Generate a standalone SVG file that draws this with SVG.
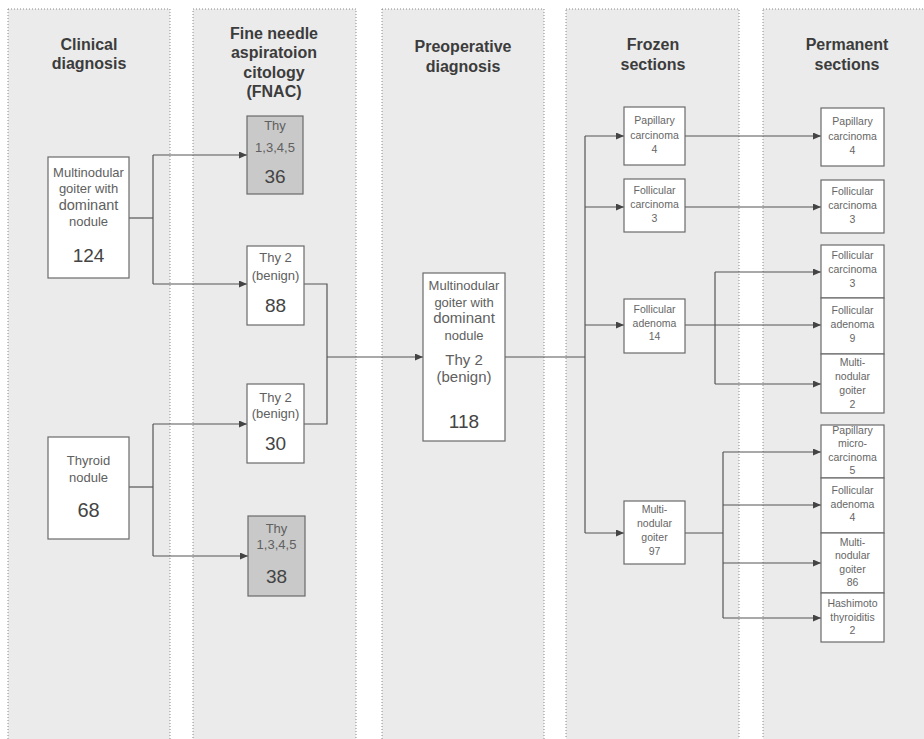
<svg xmlns="http://www.w3.org/2000/svg" width="924" height="739" viewBox="0 0 924 739">
<defs>
<style>
.panel{fill:#ebebeb;stroke:#8a8a8a;stroke-width:1;stroke-dasharray:1 2}
.hd{font-family:"Liberation Sans",Arial,sans-serif;font-weight:bold;font-size:16px;fill:#3c3c3c;text-anchor:middle}
.box{fill:#ffffff;stroke:#6a6a6a;stroke-width:1.2}
.gbox{fill:#c9c9c9;stroke:#6a6a6a;stroke-width:1.2}
.t{font-family:"Liberation Sans",Arial,sans-serif;font-size:13px;fill:#606060;text-anchor:middle}
.tb{font-family:"Liberation Sans",Arial,sans-serif;font-size:15px;fill:#606060;text-anchor:middle}
.n{font-family:"Liberation Sans",Arial,sans-serif;font-size:19px;fill:#444;text-anchor:middle}
.s{font-family:"Liberation Sans",Arial,sans-serif;font-size:10.5px;fill:#666;text-anchor:middle}
.c{fill:none;stroke:#555;stroke-width:1.2}
</style>
<marker id="ah" markerWidth="8" markerHeight="7" refX="8" refY="3.5" orient="auto" markerUnits="userSpaceOnUse">
<path d="M0,0 L8,3.5 L0,7 z" fill="#444"/>
</marker>
</defs>
<rect width="924" height="739" fill="#ffffff"/>
<g id="panels">
<rect class="panel" x="8" y="9" width="162" height="740"/>
<rect class="panel" x="193" y="9" width="163" height="740"/>
<rect class="panel" x="382" y="9" width="162" height="740"/>
<rect class="panel" x="566" y="9" width="173" height="740"/>
<rect class="panel" x="763" y="9" width="170" height="740"/>
<text class="hd" x="89" y="50">Clinical</text>
<text class="hd" x="89" y="69">diagnosis</text>
<text class="hd" x="274" y="39">Fine needle</text>
<text class="hd" x="274" y="58">aspiratoion</text>
<text class="hd" x="274" y="78">citology</text>
<text class="hd" x="274" y="97">(FNAC)</text>
<text class="hd" x="463" y="52">Preoperative</text>
<text class="hd" x="463" y="72">diagnosis</text>
<text class="hd" x="653" y="50">Frozen</text>
<text class="hd" x="653" y="70">sections</text>
<text class="hd" x="847" y="50">Permanent</text>
<text class="hd" x="847" y="70">sections</text>
</g>
<g id="connectors">
<polyline class="c" points="129,218 153,218"/>
<polyline class="c" points="153,155 153,284"/>
<line class="c" x1="153" y1="155" x2="247" y2="155" marker-end="url(#ah)"/>
<line class="c" x1="153" y1="284" x2="247" y2="284" marker-end="url(#ah)"/>
<polyline class="c" points="129,487 153,487"/>
<polyline class="c" points="153,424 153,556"/>
<line class="c" x1="153" y1="424" x2="247" y2="424" marker-end="url(#ah)"/>
<line class="c" x1="153" y1="556" x2="248" y2="556" marker-end="url(#ah)"/>
<polyline class="c" points="304,284 327,284 327,424 304,424"/>
<line class="c" x1="327" y1="357" x2="423" y2="357" marker-end="url(#ah)"/>
<polyline class="c" points="505,357 585,357"/>
<polyline class="c" points="585,136 585,533"/>
<line class="c" x1="585" y1="136" x2="624" y2="136" marker-end="url(#ah)"/>
<line class="c" x1="585" y1="207" x2="624" y2="207" marker-end="url(#ah)"/>
<line class="c" x1="585" y1="325" x2="624" y2="325" marker-end="url(#ah)"/>
<line class="c" x1="585" y1="533" x2="624" y2="533" marker-end="url(#ah)"/>
<line class="c" x1="685" y1="136" x2="821" y2="136" marker-end="url(#ah)"/>
<line class="c" x1="685" y1="207" x2="821" y2="207" marker-end="url(#ah)"/>
<line class="c" x1="685" y1="325" x2="821" y2="325" marker-end="url(#ah)"/>
<polyline class="c" points="715,272 715,384"/>
<line class="c" x1="715" y1="272" x2="821" y2="272" marker-end="url(#ah)"/>
<line class="c" x1="715" y1="384" x2="821" y2="384" marker-end="url(#ah)"/>
<polyline class="c" points="685,533 723,533"/>
<polyline class="c" points="723,452 723,618"/>
<line class="c" x1="723" y1="452" x2="821" y2="452" marker-end="url(#ah)"/>
<line class="c" x1="723" y1="505" x2="821" y2="505" marker-end="url(#ah)"/>
<line class="c" x1="723" y1="563" x2="821" y2="563" marker-end="url(#ah)"/>
<line class="c" x1="723" y1="618" x2="821" y2="618" marker-end="url(#ah)"/>
</g>
<g id="clin-mng">
<rect class="box" x="48" y="157" width="81" height="121"/>
<text class="t" x="88.5" y="177">Multinodular</text>
<text class="t" x="88.5" y="193">goiter with</text>
<text class="t" x="88.5" y="210" style="font-size:14.5px">dominant</text>
<text class="t" x="88.5" y="226">nodule</text>
<text class="n" x="88.5" y="262">124</text>
</g>
<g id="clin-thyroid">
<rect class="box" x="48" y="437" width="81" height="102"/>
<text class="t" x="88.5" y="465">Thyroid</text>
<text class="t" x="88.5" y="482">nodule</text>
<text class="n" x="88.5" y="517" style="font-size:20px">68</text>
</g>
<g id="fnac-36">
<rect class="gbox" x="247" y="116" width="56" height="78"/>
<text class="t" x="275" y="130">Thy</text>
<text class="t" x="275" y="152">1,3,4,5</text>
<text class="n" x="275" y="183">36</text>
</g>
<g id="fnac-88">
<rect class="box" x="247" y="246" width="57" height="79"/>
<text class="t" x="275.5" y="262">Thy 2</text>
<text class="t" x="275.5" y="280">(benign)</text>
<text class="n" x="275.5" y="312">88</text>
</g>
<g id="fnac-30">
<rect class="box" x="247" y="384" width="57" height="79"/>
<text class="t" x="275.5" y="402">Thy 2</text>
<text class="t" x="275.5" y="418">(benign)</text>
<text class="n" x="275.5" y="450">30</text>
</g>
<g id="fnac-38">
<rect class="gbox" x="248" y="516" width="57" height="80"/>
<text class="t" x="276.5" y="533">Thy</text>
<text class="t" x="276.5" y="549">1,3,4,5</text>
<text class="n" x="276.5" y="583">38</text>
</g>
<g id="preop">
<rect class="box" x="423" y="273" width="82" height="168"/>
<text class="t" x="464" y="290">Multinodular</text>
<text class="t" x="464" y="307">goiter with</text>
<text class="tb" x="464" y="323">dominant</text>
<text class="t" x="464" y="340">nodule</text>
<text class="tb" x="464" y="365">Thy 2</text>
<text class="tb" x="464" y="382">(benign)</text>
<text class="n" x="464" y="428">118</text>
</g>
<g id="fz-pap">
<rect class="box" x="624" y="107" width="61" height="58"/>
<text class="s" x="654.5" y="124">Papillary</text>
<text class="s" x="654.5" y="139">carcinoma</text>
<text class="s" x="654.5" y="153">4</text>
</g>
<g id="fz-fc">
<rect class="box" x="624" y="179" width="61" height="53"/>
<text class="s" x="654.5" y="194">Follicular</text>
<text class="s" x="654.5" y="208">carcinoma</text>
<text class="s" x="654.5" y="222">3</text>
</g>
<g id="fz-fa">
<rect class="box" x="624" y="299" width="61" height="54"/>
<text class="s" x="654.5" y="313">Follicular</text>
<text class="s" x="654.5" y="327">adenoma</text>
<text class="s" x="654.5" y="340">14</text>
</g>
<g id="fz-mng">
<rect class="box" x="624" y="501" width="61" height="63"/>
<text class="s" x="654.5" y="513">Multi-</text>
<text class="s" x="654.5" y="527">nodular</text>
<text class="s" x="654.5" y="541">goiter</text>
<text class="s" x="654.5" y="555">97</text>
</g>
<g id="pm-pap">
<rect class="box" x="821" y="108" width="63" height="58"/>
<text class="s" x="852.5" y="125">Papillary</text>
<text class="s" x="852.5" y="140">carcinoma</text>
<text class="s" x="852.5" y="154">4</text>
</g>
<g id="pm-fc">
<rect class="box" x="821" y="180" width="63" height="53"/>
<text class="s" x="852.5" y="195">Follicular</text>
<text class="s" x="852.5" y="209">carcinoma</text>
<text class="s" x="852.5" y="223">3</text>
</g>
<g id="pm-fc3">
<rect class="box" x="821" y="245" width="63" height="53"/>
<text class="s" x="852.5" y="259">Follicular</text>
<text class="s" x="852.5" y="273">carcinoma</text>
<text class="s" x="852.5" y="287">3</text>
</g>
<g id="pm-fa9">
<rect class="box" x="821" y="298" width="63" height="56"/>
<text class="s" x="852.5" y="314">Follicular</text>
<text class="s" x="852.5" y="328">adenoma</text>
<text class="s" x="852.5" y="342">9</text>
</g>
<g id="pm-mng2">
<rect class="box" x="821" y="354" width="63" height="59"/>
<text class="s" x="852.5" y="366">Multi-</text>
<text class="s" x="852.5" y="380">nodular</text>
<text class="s" x="852.5" y="394">goiter</text>
<text class="s" x="852.5" y="408">2</text>
</g>
<g id="pm-pmc">
<rect class="box" x="821" y="425" width="63" height="53"/>
<text class="s" x="852.5" y="434">Papillary</text>
<text class="s" x="852.5" y="447">micro-</text>
<text class="s" x="852.5" y="461">carcinoma</text>
<text class="s" x="852.5" y="474">5</text>
</g>
<g id="pm-fa4">
<rect class="box" x="821" y="478" width="63" height="55"/>
<text class="s" x="852.5" y="494">Follicular</text>
<text class="s" x="852.5" y="508">adenoma</text>
<text class="s" x="852.5" y="521">4</text>
</g>
<g id="pm-mng86">
<rect class="box" x="821" y="533" width="63" height="60"/>
<text class="s" x="852.5" y="546">Multi-</text>
<text class="s" x="852.5" y="559">nodular</text>
<text class="s" x="852.5" y="573">goiter</text>
<text class="s" x="852.5" y="586">86</text>
</g>
<g id="pm-hashi">
<rect class="box" x="821" y="593" width="63" height="49"/>
<text class="s" x="852.5" y="607">Hashimoto</text>
<text class="s" x="852.5" y="621">thyroiditis</text>
<text class="s" x="852.5" y="634">2</text>
</g>
</svg>
